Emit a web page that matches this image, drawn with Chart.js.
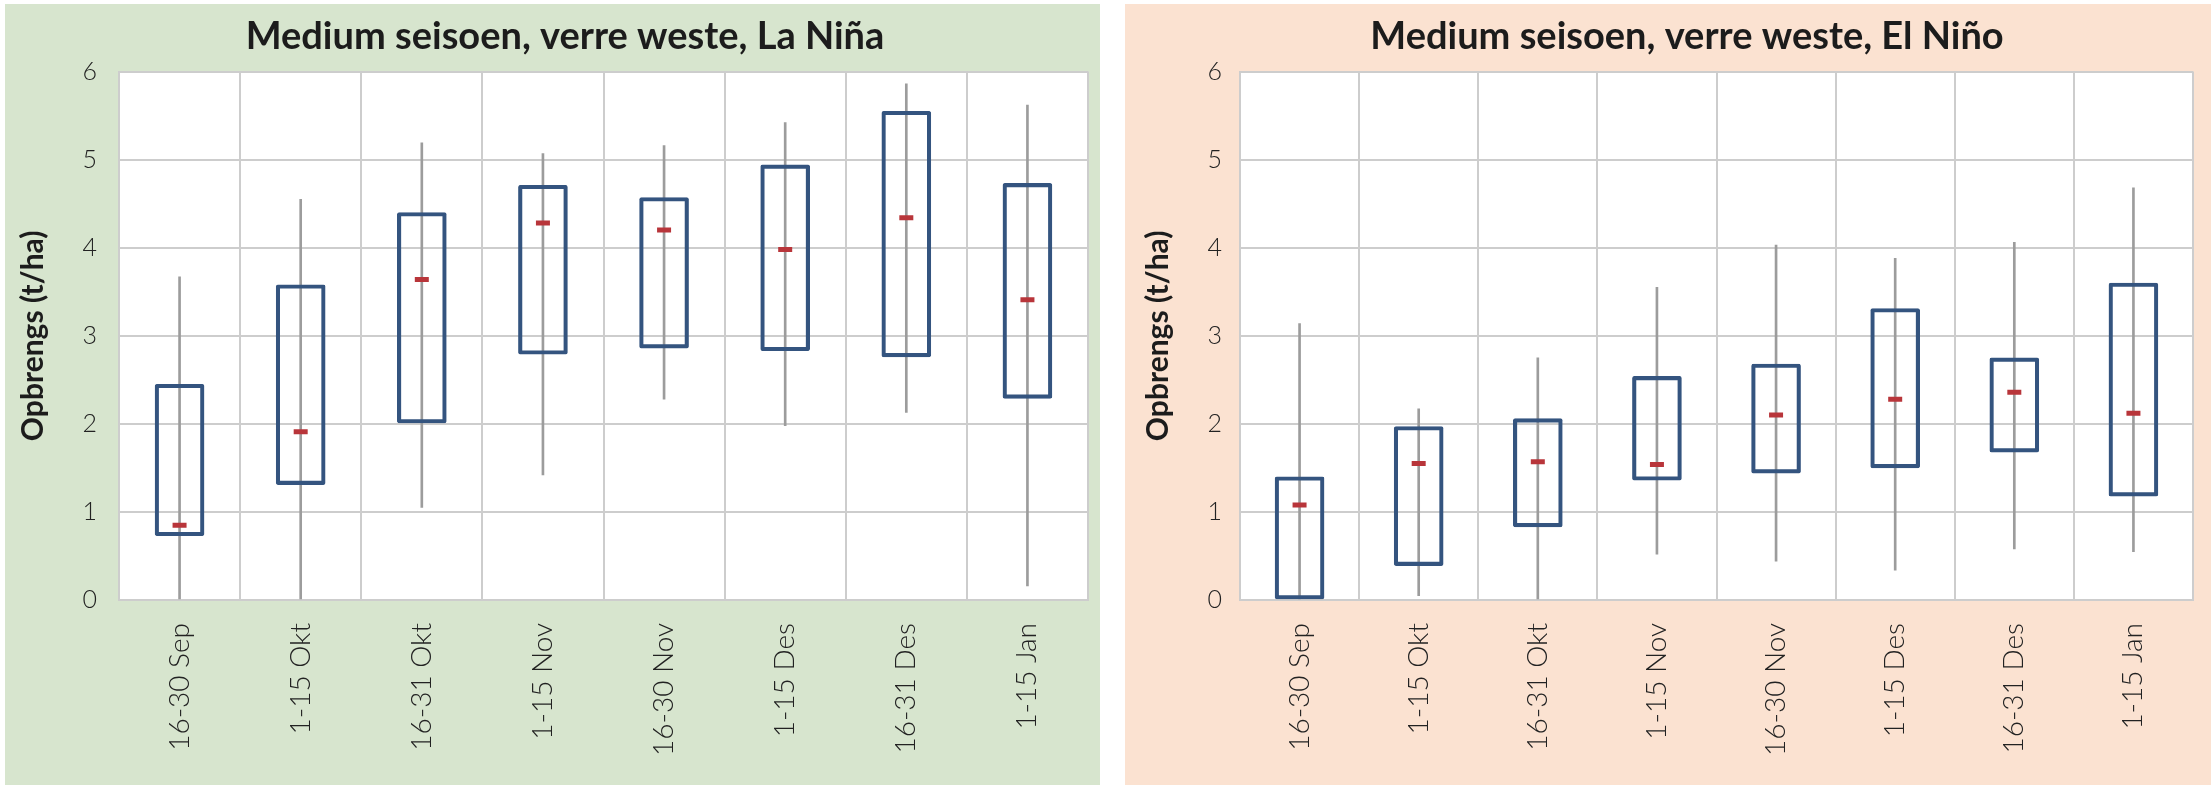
<!DOCTYPE html>
<html>
<head>
<meta charset="utf-8">
<script src="https://cdn.jsdelivr.net/npm/chart.js@4/dist/chart.umd.min.js"></script>
<style>
  body { margin: 0; background: #fff; width: 2211px; height: 785px; position: relative; overflow: hidden; }
  .panel { position: absolute; top: 4px; height: 781px; }
  #p1 { left: 5px; width: 1095px; background: #d7e5ce; }
  #p2 { left: 1125px; width: 1086px; background: #fbe2d1; }
  canvas { display: block; }
</style>
</head>
<body>
<div class="panel" id="p1"><canvas id="chart1" width="1095" height="781"></canvas></div>
<div class="panel" id="p2"><canvas id="chart2" width="1086" height="781"></canvas></div>
<script>
var categories = ['16-30 Sep', '1-15 Okt', '16-31 Okt', '1-15 Nov', '16-30 Nov', '1-15 Des', '16-31 Des', '1-15 Jan'];
var yTicks = [0, 1, 2, 3, 4, 5, 6];

// La Nina
var ninaMin = [0, 0, 1.05, 1.42, 2.28, 1.98, 2.13, 0.16];
var ninaQ1  = [0.73, 1.31, 2.01, 2.79, 2.86, 2.83, 2.76, 2.29];
var ninaMed = [0.85, 1.91, 3.64, 4.28, 4.20, 3.98, 4.34, 3.41];
var ninaQ3  = [2.45, 3.58, 4.40, 4.71, 4.57, 4.94, 5.55, 4.73];
var ninaMax = [3.67, 4.55, 5.19, 5.07, 5.16, 5.42, 5.86, 5.62];

// El Nino
var ninoMin = [0, 0.05, 0, 0.52, 0.44, 0.34, 0.58, 0.55];
var ninoQ1  = [0, 0.39, 0.83, 1.36, 1.44, 1.50, 1.68, 1.18];
var ninoMed = [1.08, 1.55, 1.57, 1.54, 2.10, 2.28, 2.36, 2.12];
var ninoQ3  = [1.40, 1.97, 2.06, 2.54, 2.68, 3.31, 2.75, 3.60];
var ninoMax = [3.14, 2.17, 2.75, 3.55, 4.03, 3.88, 4.06, 4.68];

var boxColor = '#34547f';
var whiskerColor = '#9c9c9c';
var medianColor = '#b8353a';
var gridColor = '#cdcdcd';
var textFont = 'Lato, "Open Sans", sans-serif';

function pairs(a, b) {
    var out = [];
    for (var i = 0; i < a.length; i++) out.push([a[i], b[i]]);
    return out;
}

// white plot area behind the grid
var plotBg = {
    id: 'plotBg',
    beforeDraw: function (chart) {
        var a = chart.chartArea;
        var ctx = chart.ctx;
        ctx.save();
        ctx.fillStyle = '#ffffff';
        ctx.fillRect(a.left, a.top, a.right - a.left, a.bottom - a.top);
        ctx.restore();
    }
};

function makeChart(id, title, mins, q1, med, q3, maxs, lay) {
    var ctx = document.getElementById(id).getContext('2d');
    return new Chart(ctx, {
        type: 'bar',
        data: {
            labels: categories,
            datasets: [{
                type: 'line',
                data: med,
                showLine: false,
                pointStyle: 'line',
                pointRadius: 7,
                pointBorderWidth: 5,
                pointBorderColor: medianColor,
                pointBackgroundColor: medianColor,
                order: 0
            }, {
                data: pairs(q1, q3),
                grouped: false,
                backgroundColor: 'rgba(0,0,0,0)',
                borderColor: boxColor,
                borderWidth: 3.5,
                borderSkipped: false,
                borderRadius: 2,
                barThickness: 49,
                order: 1
            }, {
                data: pairs(mins, maxs),
                grouped: false,
                backgroundColor: whiskerColor,
                borderWidth: 0,
                barThickness: 2,
                order: 2
            }]
        },
        options: {
            responsive: false,
            animation: false,
            devicePixelRatio: 1,
            layout: { padding: { left: lay.left, right: lay.right, top: 0, bottom: 0 } },
            plugins: {
                legend: { display: false },
                tooltip: { enabled: false },
                title: {
                    display: true,
                    text: title,
                    color: '#1c1c1c',
                    font: { family: textFont, size: 38, weight: 'bold' },
                    padding: { top: 10, bottom: 12 }
                }
            },
            scales: {
                x: {
                    grid: { color: gridColor, lineWidth: 2, drawTicks: false, offset: true },
                    border: { color: gridColor, width: 2 },
                    ticks: {
                        color: '#222',
                        font: { family: textFont, size: 28, weight: 300 },
                        minRotation: 90,
                        maxRotation: 90,
                        padding: 23
                    },
                    afterFit: function (scale) { scale.height = 185; }
                },
                y: {
                    min: 0,
                    max: 6,
                    afterBuildTicks: function (scale) {
                        scale.ticks = yTicks.map(function (v) { return { value: v }; });
                    },
                    grid: { color: gridColor, lineWidth: 2, drawTicks: false },
                    border: { color: gridColor, width: 2 },
                    ticks: {
                        color: '#222',
                        font: { family: textFont, size: 25, weight: 300 },
                        padding: lay.tickPad
                    },
                    title: {
                        display: true,
                        text: 'Opbrengs (t/ha)',
                        color: '#1c1c1c',
                        font: { family: textFont, size: 30, weight: 'bold' },
                        padding: { top: lay.titleOff, bottom: 0 }
                    },
                    afterFit: function (scale) { scale.width = lay.yWidth; }
                }
            }
        },
        plugins: [plotBg]
    });
}

makeChart('chart1', 'Medium seisoen, verre weste, La Niña',
    ninaMin, ninaQ1, ninaMed, ninaQ3, ninaMax,
    { left: 35, right: 10, yWidth: 79, tickPad: 22, titleOff: -25 });

makeChart('chart2', 'Medium seisoen, verre weste, El Niño',
    ninoMin, ninoQ1, ninoMed, ninoQ3, ninoMax,
    { left: 56, right: 18, yWidth: 59, tickPad: 18, titleOff: -41 });
</script>
</body>
</html>
